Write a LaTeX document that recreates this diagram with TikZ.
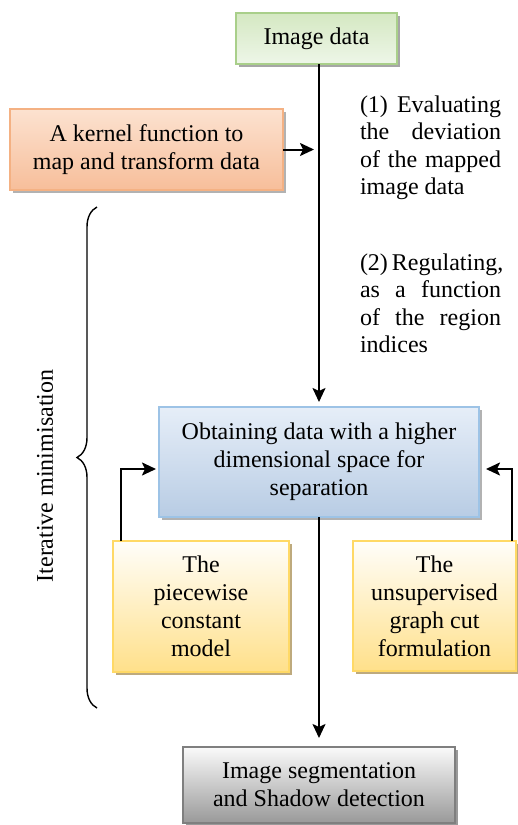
\documentclass[tikz,border=0pt]{standalone}
\usepackage{fontspec}
\setmainfont{Liberation Serif}
\usetikzlibrary{arrows.meta,shadows,decorations.pathreplacing}
\definecolor{gtop}{HTML}{D4E8C2}
\definecolor{gbot}{HTML}{EEF6E8}
\definecolor{gdraw}{HTML}{A9CF8A}
\definecolor{otop}{HTML}{FCE2D0}
\definecolor{obot}{HTML}{F7BE9A}
\definecolor{odraw}{HTML}{F4B183}
\definecolor{btop}{HTML}{E6EEF8}
\definecolor{bbot}{HTML}{B8CCE4}
\definecolor{bdraw}{HTML}{9DC3E6}
\definecolor{ytop}{HTML}{FFFEFA}
\definecolor{ybot}{HTML}{FFE08A}
\definecolor{ydraw}{HTML}{FFD966}
\definecolor{stop}{HTML}{FAFAFA}
\definecolor{sbot}{HTML}{999999}
\definecolor{sdraw}{HTML}{7F7F7F}
\begin{document}
\begin{tikzpicture}[x=1pt,y=-1pt,
  every node/.style={inner sep=0pt,outer sep=0pt},
  boxtxt/.style={align=center,font=\fontsize{24}{28}\selectfont},
  gbox/.style={boxtxt,draw=gdraw,line width=2pt,top color=gtop,bottom color=gbot,
    drop shadow={shadow xshift=3pt,shadow yshift=-3pt,fill=black!35,opacity=1}},
  obox/.style={boxtxt,draw=odraw,line width=2pt,top color=otop,bottom color=obot,
    drop shadow={shadow xshift=3pt,shadow yshift=-3pt,fill=black!30,opacity=1}},
  bbox/.style={boxtxt,draw=bdraw,line width=2pt,top color=btop,bottom color=bbot,
    drop shadow={shadow xshift=3pt,shadow yshift=-3pt,fill=black!30,opacity=1}},
  ybox/.style={boxtxt,draw=ydraw,line width=2pt,top color=ytop,bottom color=ybot,
    drop shadow={shadow xshift=3pt,shadow yshift=-3pt,fill={rgb,255:red,190;green,170;blue,125},opacity=1}},
  sbox/.style={boxtxt,draw=sdraw,line width=2pt,top color=stop,bottom color=sbot,
    drop shadow={shadow xshift=3pt,shadow yshift=-3pt,fill=black!40,opacity=1}},
  coltext/.style={anchor=base west,font=\fontsize{24}{28}\selectfont},
  arr/.style={line width=2pt,-{Stealth[length=14pt,width=13pt,inset=3pt]}},
  ln/.style={line width=2pt}
]
\useasboundingbox[fill=white] (0,0) rectangle (518,825);

\node[gbox,minimum width=161pt,minimum height=51pt] (img) at (316.5,38.5) {Image data};
\node[obox,minimum width=273pt,minimum height=81pt] (kern) at (146.5,149.5) {A kernel function to\\map and transform data};
\node[bbox,minimum width=320pt,minimum height=110pt] (obt) at (319,462) {Obtaining data with a higher\\dimensional space for\\separation};
\node[ybox,minimum width=176pt,minimum height=131pt] (pw) at (201,606.5) {The\\piecewise\\constant\\model};
\node[ybox,minimum width=163pt,minimum height=130pt] (gc) at (434.5,606) {The\\unsupervised\\graph cut\\formulation};
\node[sbox,minimum width=272pt,minimum height=76pt] (seg) at (319,785) {Image segmentation\\and Shadow detection};

\node[coltext] (t1a) at (360,112) {\makebox[141pt][s]{(1) Evaluating}};
\node[coltext] (t1b) at (360,139.5) {\makebox[141pt][s]{the deviation}};
\node[coltext] (t1c) at (360,167) {\makebox[141pt][s]{of the mapped}};
\node[coltext] (t1d) at (360,194) {image data};
\node[coltext] (t2a) at (360,270) {\makebox[141pt][s]{(2) Regulating,}};
\node[coltext] (t2b) at (360,297.5) {\makebox[141pt][s]{as a function}};
\node[coltext] (t2c) at (360,325) {\makebox[141pt][s]{of the region}};
\node[coltext] (t2d) at (360,352) {indices};

\coordinate (kj) at (319,149.5);
\draw[arr] (img.south -| obt.north) -- ([yshift=5pt]obt.north);
\draw[arr] (kern.east) -- ([xshift=-5pt]kj);
\draw[arr] (obt.south) -- ([yshift=9pt]seg.north);
\draw[arr] ([xshift=8pt]pw.north west) |- ([xshift=-3pt,yshift=-7pt]obt.west);
\draw[arr] ([xshift=-4pt]gc.north east) |- ([xshift=7pt,yshift=-7pt]obt.east);

\coordinate (brb) at (97,708);
\coordinate (brt) at (97,207);
\draw[line width=1.4pt,decorate,decoration={brace,amplitude=20pt}] (brb) -- (brt);
\node[rotate=90,font=\fontsize{24}{28}\selectfont] (itm) at (45,476) {Iterative minimisation};
\end{tikzpicture}
\end{document}
